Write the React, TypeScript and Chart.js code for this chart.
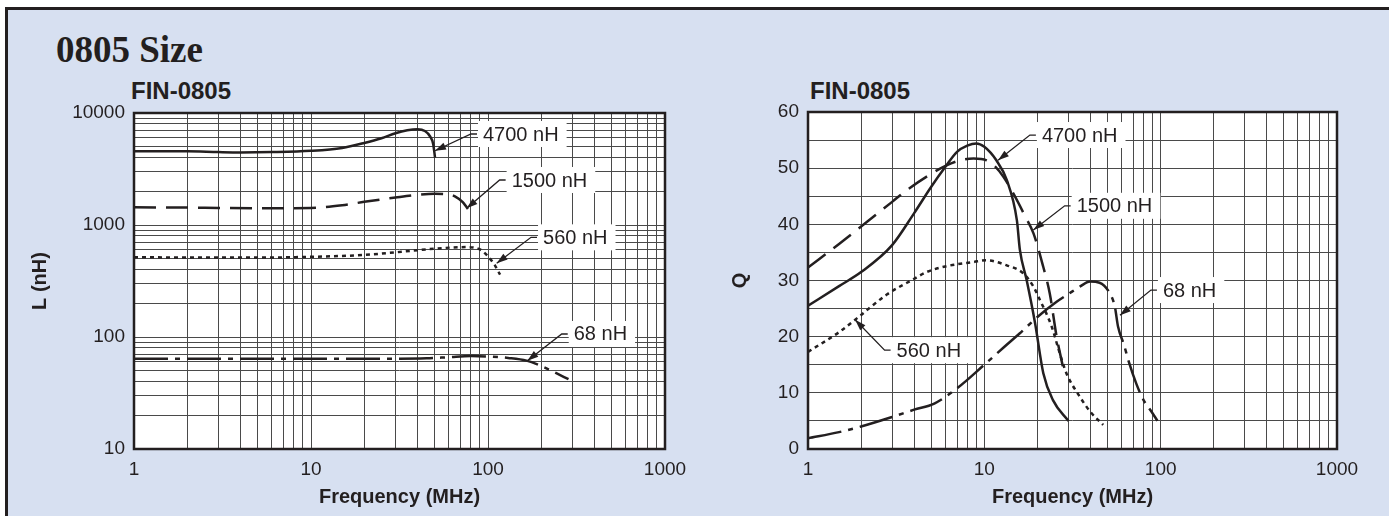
import React, { useEffect, useRef } from 'react';
import { Chart, registerables } from 'chart.js';

Chart.register(...registerables);

// ---------- data ----------
const FREQ_TICKS = [1, 10, 100, 1000];
const L_TICKS = [10, 100, 1000, 10000];
const Q_TICKS = [0, 10, 20, 30, 40, 50, 60];
const SERIES = ['4700 nH', '1500 nH', '560 nH', '68 nH'];

// Inductance vs frequency  [MHz, nH]
const L_4700 = [[1, 4550], [2, 4550], [3, 4480], [4, 4450], [6, 4480], [10, 4600], [15, 4880], [20, 5400], [25, 5950], [30, 6600], [35, 7000], [40, 7150], [44, 6900], [47, 6200], [49, 5300], [50.2, 4000]];
const L_1500 = [[1, 1440], [2, 1430], [3, 1420], [5, 1410], [10, 1420], [15, 1500], [20, 1610], [30, 1760], [40, 1860], [50, 1900], [60, 1880], [65, 1800], [72, 1600], [77, 1390]];
const L_560 = [[1, 515], [3, 512], [5, 512], [10, 520], [20, 540], [30, 570], [50, 615], [75, 635], [90, 605], [100, 525], [110, 430], [117, 360]];
const L_68 = [[1, 64], [10, 64], [30, 64], [45, 64.5], [60, 66], [80, 67.5], [100, 67], [130, 65], [165, 61.5], [200, 55], [240, 48], [285, 42]];

// Q vs frequency  [MHz, Q]
const Q_4700 = [[1, 25.5], [1.5, 29], [2, 31.5], [3, 36.3], [4, 42], [5, 46.7], [6, 50.2], [7, 52.9], [8, 54], [9, 54.4], [10, 53.8], [11.7, 51.4], [13.4, 47.9], [15.3, 40.7], [15.9, 35.5], [17.4, 30], [19.4, 22.4], [21.6, 13.5], [24.5, 8.7], [30, 5]];
const Q_1500 = [[1, 32.3], [1.5, 36.5], [2, 39.6], [3, 44], [3.6, 46], [5, 49], [6.1, 50.5], [7.5, 51.5], [8.7, 51.7], [10.3, 51.4], [11.5, 50.3], [12.8, 48.5], [14.6, 45.5], [17, 41.5], [19, 38.4], [21.6, 32.4], [23.5, 27.7], [25.7, 20], [27.9, 14.6], [28.5, 13]];
const Q_560 = [[1, 17.3], [1.5, 20.8], [1.9, 23.3], [2.8, 27.5], [4, 30.3], [4.7, 31.5], [6, 32.5], [8.7, 33.3], [10.3, 33.6], [13.4, 32.7], [16.6, 31.3], [19, 28.9], [20.7, 26.5], [24.1, 21.8], [26.5, 17.5], [29.2, 13.5], [34.8, 9.3], [40, 6.6], [47.2, 4.3]];
const Q_68 = [[1, 1.9], [1.5, 3], [2, 4], [3, 5.7], [4, 7], [5.2, 8.1], [7, 10.8], [10, 15], [13, 18.2], [15.9, 20.6], [20, 23.5], [25.7, 26.2], [30, 27.6], [34.8, 28.9], [39.8, 29.8], [45, 29.6], [51.5, 27.7], [55, 25.3], [57.3, 21.8], [62, 18.5], [66, 15.5], [73, 11.5], [80, 8.7], [88, 6.8], [96, 5]];

// callouts: label anchor (text left / middle) and arrow tip, in data units
const L_NOTES = [
  { text: SERIES[0], label: [93.7, 6494], tip: [50.2, 4600] },
  { text: SERIES[1], label: [136, 2523], tip: [75.8, 1409] },
  { text: SERIES[2], label: [204.6, 776], tip: [112, 455] },
  { text: SERIES[3], label: [305, 106.4], tip: [167, 61.4] },
];
const Q_NOTES = [
  { text: SERIES[0], label: [21.2, 55.9], tip: [11.96, 51.4] },
  { text: SERIES[1], label: [33.4, 43.3], tip: [18.97, 39.0] },
  { text: SERIES[3], label: [103, 28.3], tip: [58.8, 23.8] },
  { text: SERIES[2], label: [3.18, 17.6], tip: [1.85, 23] },
];

// ---------- style ----------
const INK = '#231f20';
const BG = '#d7e0f1';
const SANS = "'Liberation Sans', Arial, Helvetica, sans-serif";
const SERIF = "'Liberation Serif', 'Times New Roman', serif";
const DASHES = [[], [22, 10], [4, 4], [34, 7, 5, 7]];

function logGrid(min: number, max: number) {
  const out: number[] = [];
  for (let d = min; d < max; d *= 10) for (let k = 1; k < 10; k++) out.push(k * d);
  out.push(max);
  return out;
}

const framePlugin = {
  id: 'frame',
  beforeDraw(chart: any) {
    const { ctx, chartArea: a } = chart;
    ctx.save();
    ctx.fillStyle = '#ffffff';
    ctx.fillRect(a.left, a.top, a.right - a.left, a.bottom - a.top);
    ctx.restore();
  },
  afterDraw(chart: any) {
    const { ctx, chartArea: a } = chart;
    ctx.save();
    ctx.strokeStyle = INK;
    ctx.lineWidth = 2.5;
    ctx.strokeRect(a.left, a.top, a.right - a.left, a.bottom - a.top);
    ctx.restore();
  },
};

const notesPlugin = {
  id: 'notes',
  beforeDatasetsDraw(chart: any, _args: any, opts: any) {
    const { ctx } = chart;
    const xs = chart.scales.x;
    const ys = chart.scales.y;
    ctx.save();
    ctx.font = `20px ${SANS}`;
    for (const n of opts.items || []) {
      const lx = xs.getPixelForValue(n.label[0]);
      const ly = ys.getPixelForValue(n.label[1]);
      const tx = xs.getPixelForValue(n.tip[0]);
      const ty = ys.getPixelForValue(n.tip[1]);
      const w = ctx.measureText(n.text).width;
      ctx.fillStyle = '#ffffff';
      ctx.fillRect(lx - 5, ly - 13, w + 13, 26);
      ctx.fillStyle = INK;
      ctx.textBaseline = 'middle';
      ctx.textAlign = 'left';
      ctx.fillText(n.text, lx, ly + 1);
      const ex = lx - 12;
      ctx.strokeStyle = INK;
      ctx.lineWidth = 1.3;
      ctx.beginPath();
      ctx.moveTo(lx - 6, ly);
      ctx.lineTo(ex, ly);
      ctx.lineTo(tx, ty);
      ctx.stroke();
      const ang = Math.atan2(ty - ly, tx - ex);
      const len = 11, half = 3.6;
      const bx = tx - len * Math.cos(ang), by = ty - len * Math.sin(ang);
      ctx.beginPath();
      ctx.moveTo(tx, ty);
      ctx.lineTo(bx + half * Math.sin(ang), by - half * Math.cos(ang));
      ctx.lineTo(bx - half * Math.sin(ang), by + half * Math.cos(ang));
      ctx.closePath();
      ctx.fill();
    }
    ctx.restore();
  },
};

function makeDatasets(series: number[][][]) {
  return series.map((pts, i) => ({
    label: SERIES[i],
    data: pts.map(([x, y]) => ({ x, y })),
    borderColor: INK,
    borderWidth: 2.5,
    borderDash: DASHES[i],
    pointRadius: 0,
    fill: false,
    cubicInterpolationMode: 'monotone' as const,
  }));
}

const tickFont = { family: SANS, size: 19 };
const titleFont = { family: SANS, size: 20, weight: 'bold' as const };

function xScale(xh: number) {
  return {
    type: 'logarithmic' as const,
    min: 1,
    max: 1000,
    afterBuildTicks: (s: any) => { s.ticks = logGrid(1, 1000).map((v) => ({ value: v })); },
    afterFit: (s: any) => { s.height = xh; },
    ticks: {
      autoSkip: false, maxRotation: 0, minRotation: 0, padding: 9, color: INK, font: tickFont,
      callback: (v: any) => (FREQ_TICKS.includes(Number(v)) ? String(v) : ''),
    },
    grid: { color: '#4a4a4a', lineWidth: 1, drawTicks: false },
    border: { display: false },
    title: { display: true, text: 'Frequency (MHz)', color: INK, font: titleFont, padding: { top: 0, bottom: 7 } },
  };
}

function lConfig(): any {
  return {
    type: 'line',
    data: { datasets: makeDatasets([L_4700, L_1500, L_560, L_68]) },
    options: {
      responsive: false, animation: false, devicePixelRatio: 1,
      layout: { padding: { top: 25, right: 35, left: 0, bottom: 0 } },
      plugins: { legend: { display: false }, tooltip: { enabled: false }, notes: { items: L_NOTES } },
      scales: {
        x: xScale(67),
        y: {
          type: 'logarithmic', min: 10, max: 10000,
          afterBuildTicks: (s: any) => { s.ticks = logGrid(10, 10000).map((v) => ({ value: v })); },
          afterFit: (s: any) => { s.width = 124; },
          ticks: {
            autoSkip: false, padding: 9, color: INK, font: tickFont,
            callback: (v: any) => (L_TICKS.includes(Number(v)) ? String(v) : ''),
          },
          grid: { color: '#4a4a4a', lineWidth: 1, drawTicks: false },
          border: { display: false },
          title: { display: true, text: 'L (nH)', color: INK, font: titleFont, padding: { top: 18, bottom: 0 } },
        },
      },
    },
    plugins: [framePlugin, notesPlugin],
  };
}

function qConfig(): any {
  return {
    type: 'line',
    data: { datasets: makeDatasets([Q_4700, Q_1500, Q_560, Q_68]) },
    options: {
      responsive: false, animation: false, devicePixelRatio: 1,
      layout: { padding: { top: 25, right: 35, left: 0, bottom: 0 } },
      plugins: { legend: { display: false }, tooltip: { enabled: false }, notes: { items: Q_NOTES } },
      scales: {
        x: xScale(67),
        y: {
          type: 'linear', min: 0, max: 60,
          afterFit: (s: any) => { s.width = 88; },
          ticks: {
            stepSize: 5, autoSkip: false, padding: 9, color: INK, font: tickFont,
            callback: (v: any) => (Q_TICKS.includes(Number(v)) ? String(v) : ''),
          },
          grid: { color: '#4a4a4a', lineWidth: 1, drawTicks: false },
          border: { display: false },
          title: { display: true, text: 'Q', color: INK, font: titleFont, padding: { top: 8, bottom: 0 } },
        },
      },
    },
    plugins: [framePlugin, notesPlugin],
  };
}

function ChartCanvas({ make, left, top, width, height }: { make: () => any; left: number; top: number; width: number; height: number }) {
  const ref = useRef<HTMLCanvasElement>(null);
  useEffect(() => {
    const chart = new Chart(ref.current as HTMLCanvasElement, make());
    return () => chart.destroy();
  }, []);
  return (
    <canvas
      ref={ref}
      width={width}
      height={height}
      style={{ position: 'absolute', left, top, width, height }}
    />
  );
}

export default function App() {
  return (
    <div style={{ position: 'fixed', left: 0, top: 0, width: 1389, height: 516, background: '#ffffff', overflow: 'hidden' }}>
      <div
        style={{
          position: 'absolute', left: 5, top: 7, right: 0, bottom: 0, background: BG,
          borderLeft: `3px solid ${INK}`, borderTop: `3px solid ${INK}`,
        }}
      />
      <div style={{ position: 'absolute', left: 56, top: 31, font: `bold 37px ${SERIF}`, lineHeight: '37px', color: INK, whiteSpace: 'nowrap' }}>
        0805 Size
      </div>
      <div style={{ position: 'absolute', left: 131, top: 79, font: `bold 24px ${SANS}`, lineHeight: '24px', color: INK, whiteSpace: 'nowrap' }}>
        FIN-0805
      </div>
      <div style={{ position: 'absolute', left: 810, top: 79, font: `bold 24px ${SANS}`, lineHeight: '24px', color: INK, whiteSpace: 'nowrap' }}>
        FIN-0805
      </div>
      <ChartCanvas make={lConfig} left={10} top={88} width={690} height={428} />
      <ChartCanvas make={qConfig} left={720} top={87} width={652} height={429} />
    </div>
  );
}
